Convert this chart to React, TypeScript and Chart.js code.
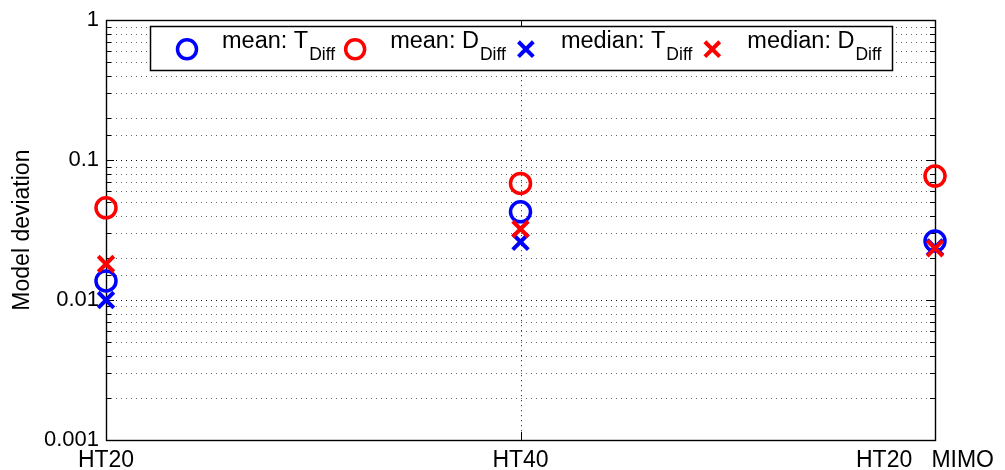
import React, { useEffect, useRef } from 'react';
import { Chart, registerables } from 'chart.js';

Chart.register(...registerables);

const CATEGORIES = ['HT20', 'HT40', 'HT20   MIMO'];
const MEAN_T = [0.0137, 0.0427, 0.0264];
const MEAN_D = [0.0456, 0.0682, 0.0769];
const MEDIAN_T = [0.0100, 0.0261, 0.0238];
const MEDIAN_D = [0.0181, 0.0322, 0.0234];
const Y_TICK_LABELS = ['0.001', '0.01', '0.1', '1'];
const SERIES_LABELS = ['mean: T_Diff', 'mean: D_Diff', 'median: T_Diff', 'median: D_Diff'];
const Y_TITLE = 'Model deviation';

const FONT = '"Liberation Sans", Arial, Helvetica, sans-serif';
const BLUE = '#0000ff';
const RED = '#ff0000';

const isDecade = (v: number) => {
  const l = Math.log10(v);
  return Math.abs(l - Math.round(l)) < 1e-6;
};

function drawMarker(ctx: CanvasRenderingContext2D, style: string, x: number, y: number, r: number, color: string, lw: number) {
  ctx.save();
  ctx.strokeStyle = color;
  ctx.lineWidth = lw;
  ctx.beginPath();
  if (style === 'circle') {
    ctx.arc(x, y, r, 0, Math.PI * 2);
  } else {
    const d = r * Math.SQRT1_2;
    ctx.moveTo(x - d, y - d);
    ctx.lineTo(x + d, y + d);
    ctx.moveTo(x - d, y + d);
    ctx.lineTo(x + d, y - d);
  }
  ctx.stroke();
  ctx.restore();
}

const framePlugin = {
  id: 'frame',
  beforeDatasetsDraw(chart: any) {
    const { ctx, chartArea: a, scales } = chart;
    const ys = scales.y;
    const xs = scales.x;
    ctx.save();
    const line = (x1: number, y1: number, x2: number, y2: number) => {
      ctx.beginPath();
      ctx.moveTo(x1, y1);
      ctx.lineTo(x2, y2);
      ctx.stroke();
    };
    // dotted grid
    ctx.lineWidth = 1;
    ctx.setLineDash([1, 4]);
    ys.ticks.forEach((t: any) => {
      const py = Math.round(ys.getPixelForValue(t.value)) + 0.5;
      ctx.strokeStyle = isDecade(t.value) ? '#111' : '#666';
      line(a.left, py, a.right, py);
    });
    const n = xs.ticks.length;
    ctx.strokeStyle = '#111';
    xs.ticks.forEach((t: any, i: number) => {
      if (i === 0 || i === n - 1) return;
      const px = Math.round(xs.getPixelForValue(i)) + 0.5;
      line(px, a.top, px, a.bottom);
    });
    ctx.setLineDash([]);
    // box
    ctx.strokeStyle = '#000';
    ctx.lineWidth = 1.4;
    ctx.strokeRect(Math.round(a.left) + 0.5, Math.round(a.top) + 0.5, Math.round(a.right - a.left), Math.round(a.bottom - a.top));
    // inner ticks
    ctx.lineWidth = 1;
    ys.ticks.forEach((t: any) => {
      const py = Math.round(ys.getPixelForValue(t.value)) + 0.5;
      const len = isDecade(t.value) ? 8 : 5;
      line(a.left, py, a.left + len, py);
      line(a.right, py, a.right - len, py);
    });
    xs.ticks.forEach((t: any, i: number) => {
      const px = Math.round(xs.getPixelForValue(i)) + 0.5;
      line(px, a.bottom, px, a.bottom - 8);
      line(px, a.top, px, a.top + 8);
    });
    ctx.restore();
  },
  afterDraw(chart: any) {
    const { ctx, chartArea: a, scales } = chart;
    const xs = scales.x;
    ctx.save();
    // x category labels
    ctx.font = `23px ${FONT}`;
    ctx.fillStyle = '#000';
    ctx.textBaseline = 'alphabetic';
    ctx.textAlign = 'left';
    const labels: string[] = chart.data.labels;
    labels.forEach((lab, i) => {
      const w = ctx.measureText(lab).width;
      let cx = xs.getPixelForValue(i);
      cx = Math.min(cx, chart.width - 11 - w / 2);
      cx = Math.max(cx, 11 + w / 2);
      ctx.fillText(lab, cx - w / 2, a.bottom + 27);
    });

    // legend
    const MAIN = 23.5;
    const SUB = 17.5;
    const left = a.left + 44;
    const top = a.top + 6;
    const h = 44;
    const cy = top + 23;
    const baseline = top + 22;
    let x = left + 37;
    const items = chart.data.datasets.map((ds: any) => {
      const [main, sub] = String(ds.label).split('_');
      ctx.font = `${MAIN}px ${FONT}`;
      const wm = ctx.measureText(main).width;
      ctx.font = `${SUB}px ${FONT}`;
      const ws = ctx.measureText(sub || '').width;
      const tx = x + 35;
      const end = tx + wm + 1 + ws;
      const item = { mx: x, tx, main, sub, wm, end, style: ds.pointStyle, color: ds.borderColor };
      x = end + 20;
      return item;
    });
    const right = items[items.length - 1].end + 11;
    ctx.fillStyle = '#fff';
    ctx.fillRect(left, top, right - left, h);
    ctx.strokeStyle = '#000';
    ctx.lineWidth = 1.5;
    ctx.strokeRect(Math.round(left) + 0.5, Math.round(top) + 0.5, Math.round(right - left), h);
    items.forEach((it: any) => {
      const circ = it.style === 'circle';
      drawMarker(ctx, circ ? 'circle' : 'cross', it.mx, cy, circ ? 9.5 : 10.5, it.color, circ ? 3.5 : 4);
      ctx.fillStyle = '#000';
      ctx.font = `${MAIN}px ${FONT}`;
      ctx.fillText(it.main, it.tx, baseline);
      ctx.font = `${SUB}px ${FONT}`;
      ctx.fillText(it.sub || '', it.tx + it.wm + 1, baseline + 12);
    });
    ctx.restore();
  },
};

export default function App() {
  const ref = useRef<HTMLCanvasElement | null>(null);

  useEffect(() => {
    if (!ref.current) return;
    const mk = (label: string, data: number[], color: string, style: string, order: number) => {
      const circ = style === 'circle';
      return {
        label,
        data,
        borderColor: color,
        backgroundColor: 'rgba(0,0,0,0)',
        pointStyle: style,
        pointRadius: circ ? 10 : 11,
        pointHoverRadius: circ ? 10 : 11,
        pointBorderWidth: circ ? 3.5 : 4,
        pointHoverBorderWidth: circ ? 3.5 : 4,
        showLine: false,
        clip: false as any,
        order,
      };
    };
    const chart = new Chart(ref.current, {
      type: 'line',
      data: {
        labels: CATEGORIES,
        datasets: [
          mk(SERIES_LABELS[0], MEAN_T, BLUE, 'circle', 4),
          mk(SERIES_LABELS[1], MEAN_D, RED, 'circle', 3),
          mk(SERIES_LABELS[2], MEDIAN_T, BLUE, 'crossRot', 2),
          mk(SERIES_LABELS[3], MEDIAN_D, RED, 'crossRot', 1),
        ] as any,
      },
      options: {
        responsive: false,
        animation: false,
        devicePixelRatio: 1,
        layout: { padding: { left: 0, right: 70, top: 20, bottom: 0 } },
        plugins: { legend: { display: false }, tooltip: { enabled: false } },
        events: [],
        scales: {
          x: {
            type: 'category',
            offset: false,
            grid: { display: false },
            border: { display: false },
            ticks: { display: false },
            afterFit: (s: any) => {
              s.height = 30;
            },
          },
          y: {
            type: 'logarithmic',
            min: 0.001,
            max: 1,
            grid: { display: false, drawTicks: false },
            border: { display: false },
            ticks: {
              autoSkip: false,
              padding: 7,
              color: '#000',
              font: { family: FONT, size: 22 },
              callback: (v: any) => {
                const val = Number(v);
                if (!isDecade(val)) return '';
                const found = Y_TICK_LABELS.find((s) => Math.abs(Math.log10(Number(s)) - Math.log10(val)) < 1e-6);
                return found ?? '';
              },
            },
            title: {
              display: true,
              text: Y_TITLE,
              color: '#000',
              font: { family: FONT, size: 23 },
              padding: { top: 9, bottom: 0 },
            },
            afterFit: (s: any) => {
              s.width = 106;
            },
          },
        },
      },
      plugins: [framePlugin],
    });
    return () => chart.destroy();
  }, []);

  return (
    <div style={{ position: 'absolute', left: 0, top: 0, width: 1005, height: 470, background: '#fff' }}>
      <canvas ref={ref} width={1005} height={470} style={{ display: 'block' }} />
    </div>
  );
}
